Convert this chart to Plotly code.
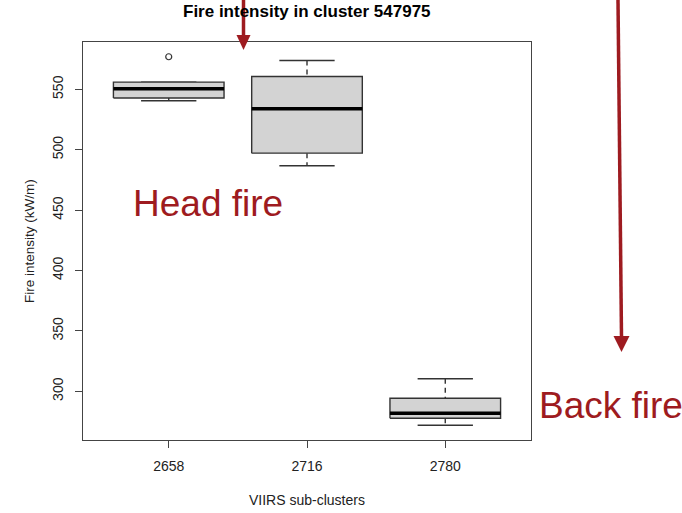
import plotly.graph_objects as go

# Five-number summaries of fire intensity (kW/m) for each VIIRS sub-cluster
clusters = ["2658", "2716", "2780"]
lower_whisker = [540.6, 486.7, 271.9]
q1 = [542.8, 497.2, 277.7]
median = [550.5, 534.0, 281.8]
q3 = [556.0, 560.7, 294.2]
upper_whisker = [556.0, 573.9, 310.4]
outlier_cluster = ["2658"]
outlier_value = [577.0]

y_ticks = [300, 350, 400, 450, 500, 550]

W, H = 682, 513
ML, MR, MT, MB = 83, 151, 42, 73
PW, PH = W - ML - MR, H - MT - MB

RED = "#9E1B20"
EDGE = "#333333"
FONT = "Liberation Sans, Arial, sans-serif"


def px(x):
    return (x - ML) / PW


def py(y):
    return (H - MB - y) / PH


pos = list(range(1, len(clusters) + 1))
half_box, half_cap = 0.4, 0.2

fig = go.Figure()

for i, p in enumerate(pos):
    # dashed whiskers
    fig.add_trace(go.Scatter(
        x=[p, p, None, p, p],
        y=[upper_whisker[i], q3[i], None, q1[i], lower_whisker[i]],
        mode="lines", line=dict(color=EDGE, width=1.4, dash="5px,4px"),
        hoverinfo="skip", showlegend=False))
    # whisker caps
    fig.add_trace(go.Scatter(
        x=[p - half_cap, p + half_cap, None, p - half_cap, p + half_cap],
        y=[upper_whisker[i], upper_whisker[i], None, lower_whisker[i], lower_whisker[i]],
        mode="lines", line=dict(color=EDGE, width=1.4),
        hoverinfo="skip", showlegend=False))
    # box
    fig.add_trace(go.Scatter(
        x=[p - half_box, p + half_box, p + half_box, p - half_box, p - half_box],
        y=[q1[i], q1[i], q3[i], q3[i], q1[i]],
        mode="lines", fill="toself", fillcolor="#D3D3D3",
        line=dict(color=EDGE, width=1.4),
        hoverinfo="skip", showlegend=False))
    # median
    fig.add_trace(go.Scatter(
        x=[p - half_box, p + half_box], y=[median[i], median[i]],
        mode="lines", line=dict(color="black", width=3.5),
        hoverinfo="skip", showlegend=False))

# outliers
fig.add_trace(go.Scatter(
    x=[pos[clusters.index(c)] for c in outlier_cluster], y=outlier_value,
    mode="markers",
    marker=dict(symbol="circle-open", size=6, color=EDGE, line=dict(width=1.2)),
    hoverinfo="skip", showlegend=False))

all_vals = lower_whisker + upper_whisker + outlier_value
lo, hi = min(all_vals), max(all_vals)
pad = 0.04 * (hi - lo)
xpad = 0.04 * len(clusters)

axis_common = dict(
    showline=True, mirror=True, linecolor="#444444", linewidth=1,
    ticks="outside", ticklen=7, tickcolor="#444444", tickwidth=1,
    showgrid=False, zeroline=False,
    tickfont=dict(family=FONT, size=14, color="#222222"),
)

fig.update_xaxes(
    range=[0.5 - xpad, len(clusters) + 0.5 + xpad],
    tickvals=pos, ticktext=clusters, ticklabelstandoff=6, **axis_common)
fig.update_yaxes(
    range=[lo - pad, hi + pad], tickvals=y_ticks, tickangle=-90,
    ticklabelstandoff=6, **axis_common)

annotations = [
    dict(text="<b>Fire intensity in cluster 547975</b>", x=0.5, y=1,
         xref="paper", yref="paper", xanchor="center", yanchor="middle",
         yshift=MT - 11, showarrow=False,
         font=dict(family=FONT, size=17, color="black")),
    dict(text="VIIRS sub-clusters", x=0.5, y=0, xref="paper", yref="paper",
         xanchor="center", yanchor="middle",
         yshift=-(500 - (H - MB)), showarrow=False,
         font=dict(family=FONT, size=14, color="#222222")),
    dict(text="Fire intensity (kW/m)", x=0, y=0.5, xref="paper", yref="paper",
         xanchor="center", yanchor="middle",
         xshift=29 - ML, textangle=-90, showarrow=False,
         font=dict(family=FONT, size=13.5, color="#222222")),
    dict(text="Head fire", x=px(131), y=py(203), xref="paper", yref="paper",
         xanchor="left", yanchor="middle", showarrow=False,
         font=dict(family=FONT, size=37, color=RED)),
    dict(text="Back fire", x=px(537), y=py(405), xref="paper", yref="paper",
         xanchor="left", yanchor="middle", showarrow=False,
         font=dict(family=FONT, size=37, color=RED)),
]

shapes = []
# downward arrows marking head and back fire directions
for (x0, x1, tip, head_top, hw) in [(243.5, 243.5, 50, 35, 7), (618, 621.5, 352, 336, 8)]:
    shapes.append(dict(type="line", xref="paper", yref="paper",
                       x0=px(x0), y0=py(0), x1=px(x1), y1=py(head_top + 1),
                       line=dict(color=RED, width=3.5), layer="above"))
    shapes.append(dict(type="path", xref="paper", yref="paper",
                       path=f"M {px(x1 - hw)} {py(head_top)} L {px(x1 + hw)} {py(head_top)} "
                            f"L {px(x1)} {py(tip)} Z",
                       fillcolor=RED, line=dict(color=RED, width=0), layer="above"))

fig.update_layout(
    width=W, height=H, margin=dict(l=ML, r=MR, t=MT, b=MB),
    paper_bgcolor="white", plot_bgcolor="white",
    annotations=annotations, shapes=shapes, showlegend=False,
)

fig.write_html("out.html")
